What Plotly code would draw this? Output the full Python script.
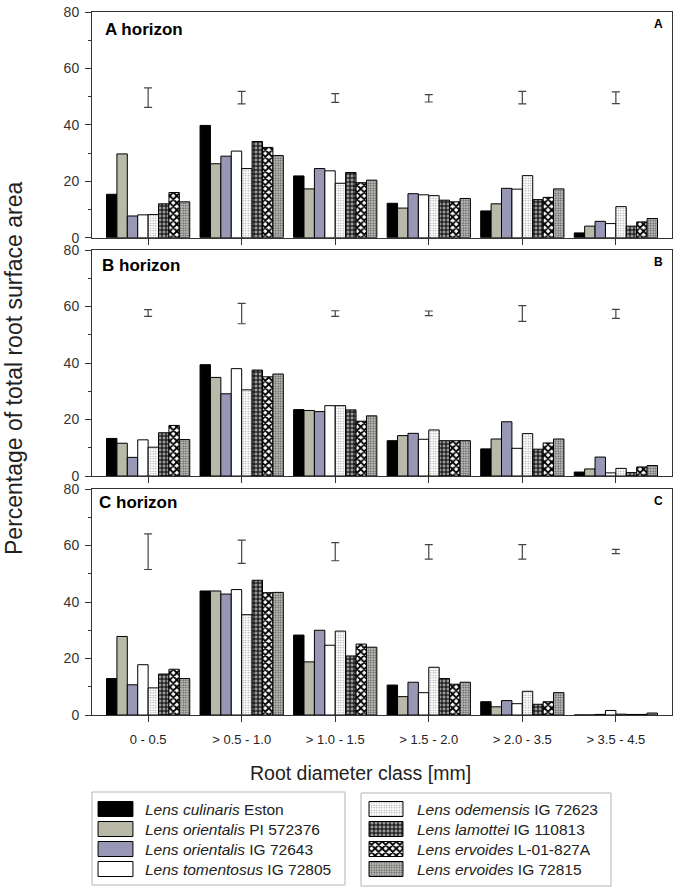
import plotly.graph_objects as go

# ---------------- data ----------------
categories = ["0 - 0.5", "> 0.5 - 1.0", "> 1.0 - 1.5", "> 1.5 - 2.0", "> 2.0 - 3.5", "> 3.5 - 4.5"]

series_labels = [
    "<i>Lens culinaris</i> Eston",
    "<i>Lens orientalis</i> PI 572376",
    "<i>Lens orientalis</i> IG 72643",
    "<i>Lens tomentosus</i> IG 72805",
    "<i>Lens odemensis</i> IG 72623",
    "<i>Lens lamottei</i> IG 110813",
    "<i>Lens ervoides</i> L-01-827A",
    "<i>Lens ervoides</i> IG 72815",
]

# A horizon
a_culinaris_eston = [15.4, 39.8, 21.9, 12.2, 9.5, 1.7]
a_orientalis_pi572376 = [29.7, 26.2, 17.3, 10.5, 12.0, 4.1]
a_orientalis_ig72643 = [7.7, 28.9, 24.5, 15.6, 17.5, 5.8]
a_tomentosus_ig72805 = [8.1, 30.7, 23.7, 15.2, 17.2, 5.0]
a_odemensis_ig72623 = [8.2, 24.5, 19.3, 14.9, 22.0, 11.0]
a_lamottei_ig110813 = [12.0, 34.1, 23.1, 13.3, 13.5, 4.1]
a_ervoides_l01827a = [16.0, 32.0, 19.5, 12.7, 14.3, 5.6]
a_ervoides_ig72815 = [12.7, 29.1, 20.4, 13.9, 17.3, 6.8]
a_lsd_low = [46.2, 47.4, 48.0, 48.1, 47.4, 47.5]
a_lsd_high = [53.1, 51.9, 51.1, 50.7, 51.9, 51.7]

# B horizon
b_culinaris_eston = [13.3, 39.4, 23.5, 12.5, 9.6, 1.4]
b_orientalis_pi572376 = [11.6, 34.9, 23.2, 14.3, 13.1, 2.5]
b_orientalis_ig72643 = [6.6, 29.1, 22.8, 15.1, 19.2, 6.7]
b_tomentosus_ig72805 = [12.8, 38.0, 24.9, 13.0, 9.8, 1.1]
b_odemensis_ig72623 = [10.2, 30.5, 24.9, 16.3, 15.0, 2.7]
b_lamottei_ig110813 = [15.3, 37.5, 23.4, 12.5, 9.5, 1.2]
b_ervoides_l01827a = [17.9, 35.1, 19.4, 12.5, 11.7, 3.2]
b_ervoides_ig72815 = [12.9, 36.1, 21.3, 12.5, 13.1, 3.7]
b_lsd_low = [56.5, 53.9, 56.5, 56.8, 54.7, 55.8]
b_lsd_high = [58.9, 61.1, 58.5, 58.4, 60.3, 59.0]

# C horizon
c_culinaris_eston = [12.9, 43.9, 28.3, 10.6, 4.7, 0.0]
c_orientalis_pi572376 = [27.8, 43.9, 18.8, 6.5, 2.9, 0.0]
c_orientalis_ig72643 = [10.7, 42.8, 30.0, 11.6, 5.1, 0.2]
c_tomentosus_ig72805 = [17.8, 44.4, 24.7, 7.9, 4.0, 1.6]
c_odemensis_ig72623 = [9.6, 35.5, 29.7, 16.9, 8.4, 0.3]
c_lamottei_ig110813 = [14.5, 47.7, 20.9, 12.9, 3.8, 0.2]
c_ervoides_l01827a = [16.2, 43.3, 25.1, 10.9, 4.7, 0.2]
c_ervoides_ig72815 = [12.9, 43.4, 24.0, 11.6, 7.9, 0.7]
c_lsd_low = [51.5, 53.7, 54.6, 55.2, 55.2, 57.1]
c_lsd_high = [64.1, 61.9, 61.0, 60.3, 60.3, 58.6]

y_ticks = [0, 20, 40, 60, 80]

# ---------------- styles ----------------
FONT = "Liberation Sans, Arial, sans-serif"
OUTLINE = dict(color="black", width=1)

marker_styles = [
    dict(color="black"),
    dict(color="#b9b9aa"),
    dict(color="#9898b6"),
    dict(color="white"),
    dict(color="white", pattern=dict(shape=".", fgcolor="#9a9a9a", bgcolor="white", size=2.5, solidity=0.25, fillmode="replace")),
    dict(color="#777777", pattern=dict(shape="+", fgcolor="black", bgcolor="#9a9a9a", size=4, solidity=0.45, fillmode="replace")),
    dict(color="black", pattern=dict(shape="x", fgcolor="black", bgcolor="white", size=5, solidity=0.6, fillmode="replace")),
    dict(color="#999999", pattern=dict(shape=".", fgcolor="#505050", bgcolor="#bdbdb8", size=2.5, solidity=0.35, fillmode="replace")),
]

panels = [
    ("A horizon", "A", [a_culinaris_eston, a_orientalis_pi572376, a_orientalis_ig72643, a_tomentosus_ig72805,
                        a_odemensis_ig72623, a_lamottei_ig110813, a_ervoides_l01827a, a_ervoides_ig72815],
     a_lsd_low, a_lsd_high),
    ("B horizon", "B", [b_culinaris_eston, b_orientalis_pi572376, b_orientalis_ig72643, b_tomentosus_ig72805,
                        b_odemensis_ig72623, b_lamottei_ig110813, b_ervoides_l01827a, b_ervoides_ig72815],
     b_lsd_low, b_lsd_high),
    ("C horizon", "C", [c_culinaris_eston, c_orientalis_pi572376, c_orientalis_ig72643, c_tomentosus_ig72805,
                        c_odemensis_ig72623, c_lamottei_ig110813, c_ervoides_l01827a, c_ervoides_ig72815],
     c_lsd_low, c_lsd_high),
]

W, H = 680, 895
ML, MR, MT, MB = 92, 8, 12, 5
PW = W - ML - MR
PH = H - MT - MB


def px_x(rx):
    return (rx - ML) / PW


def px_y(ry):
    return (H - MB - ry) / PH


panel_px = [(12, 237.7), (250, 476), (489, 715)]
title_pos = [(103, 29), (100, 265), (97, 503)]
letter_pos = [24, 262, 501]

fig = go.Figure()
layout = dict(
    width=W, height=H,
    margin=dict(l=ML, r=MR, t=MT, b=MB, autoexpand=False),
    paper_bgcolor="white", plot_bgcolor="white",
    barmode="group", bargap=0.11, bargroupgap=0.0,
    showlegend=False,
    font=dict(family=FONT, color="#222"),
)
annotations = []
shapes = []

for p, (title, letter, series, lsd_low, lsd_high) in enumerate(panels):
    k = p + 1
    xa = "x" if k == 1 else f"x{k}"
    ya = "y" if k == 1 else f"y{k}"
    for i, vals in enumerate(series):
        fig.add_trace(go.Bar(
            x=categories, y=vals, name=series_labels[i], xaxis=xa, yaxis=ya,
            offsetgroup=str(i), marker=dict(**marker_styles[i], line=OUTLINE),
        ))
    centers = [(lo + hi) / 2 for lo, hi in zip(lsd_low, lsd_high)]
    halves = [(hi - lo) / 2 for lo, hi in zip(lsd_low, lsd_high)]
    fig.add_trace(go.Scatter(
        x=categories, y=centers, mode="markers", xaxis=xa, yaxis=ya,
        marker=dict(size=1, color="rgba(0,0,0,0)"),
        error_y=dict(type="data", array=halves, symmetric=True, color="#444", thickness=1.2, width=4),
    ))
    y0, y1 = panel_px[p]
    layout["xaxis" if k == 1 else f"xaxis{k}"] = dict(
        domain=[0, 1], anchor=ya, type="category", range=[-0.6, 5.6], automargin=False,
        showline=True, linecolor="#333", linewidth=1, mirror=True,
        ticks="outside", ticklen=6, tickcolor="#333", showgrid=False,
        showticklabels=(k == 3), tickfont=dict(size=13, color="#222", family=FONT),
        ticklabelstandoff=6,
    )
    layout["yaxis" if k == 1 else f"yaxis{k}"] = dict(
        domain=[px_y(y1), px_y(y0)], anchor=xa, range=[0, 80], automargin=False,
        tickvals=y_ticks, showline=True, linecolor="#333", linewidth=1, mirror=True,
        ticks="outside", ticklen=6, tickcolor="#333", showgrid=False, zeroline=False,
        minor=dict(dtick=10, ticks="outside", ticklen=3, tickcolor="#333", showgrid=False),
        tickfont=dict(size=14, color="#333", family=FONT), ticklabelstandoff=3,
        ticklabeloverflow="allow",
    )
    tx, ty = title_pos[p]
    annotations.append(dict(text=f"<b>{title}</b>", x=px_x(tx), y=px_y(ty), xref="paper", yref="paper",
                            xanchor="left", yanchor="middle", showarrow=False,
                            font=dict(size=17, color="black", family=FONT)))
    annotations.append(dict(text=f"<b>{letter}</b>", x=px_x(665), y=px_y(letter_pos[p]), xref="paper", yref="paper",
                            xanchor="right", yanchor="middle", showarrow=False,
                            font=dict(size=12, color="black", family=FONT)))

# axis titles
annotations.append(dict(text="Percentage of total root surface area", x=px_x(14), y=px_y(368),
                        xref="paper", yref="paper", textangle=-90, showarrow=False,
                        xanchor="center", yanchor="middle", font=dict(size=23, color="#222", family=FONT)))
annotations.append(dict(text="Root diameter class [mm]", x=px_x(360), y=px_y(773),
                        xref="paper", yref="paper", showarrow=False,
                        xanchor="center", yanchor="middle", font=dict(size=19.5, color="#222", family=FONT)))

# legend: swatches drawn as bars on auxiliary hidden axes, labels as annotations
legend_rows = [3, 2, 1, 0]
row_px = [809, 829, 849, 869]
for g, (sx0, sx1, text_x) in enumerate([(97, 134, 143), (368, 404, 415)]):
    k = 4 + g
    for r in range(4):
        i = g * 4 + r
        fig.add_trace(go.Bar(
            x=[1], y=[legend_rows[r]], base=0, orientation="h", width=0.75,
            xaxis=f"x{k}", yaxis=f"y{k}", marker=dict(**marker_styles[i], line=OUTLINE),
        ))
        annotations.append(dict(text=series_labels[i], x=px_x(text_x), y=px_y(row_px[r]),
                                xref="paper", yref="paper", xanchor="left", yanchor="middle",
                                showarrow=False, font=dict(size=15.5, color="#222", family=FONT)))
    layout[f"xaxis{k}"] = dict(domain=[px_x(sx0), px_x(sx1)], anchor=f"y{k}", range=[-0.03, 1.03],
                               visible=False, automargin=False)
    layout[f"yaxis{k}"] = dict(domain=[px_y(879), px_y(799)], anchor=f"x{k}", range=[-0.5, 3.5],
                               visible=False, automargin=False)

shapes.append(dict(type="rect", xref="paper", yref="paper", x0=px_x(92), x1=px_x(345),
                   y0=px_y(885), y1=px_y(792), line=dict(color="#b5b5b5", width=1)))
shapes.append(dict(type="rect", xref="paper", yref="paper", x0=px_x(361), x1=px_x(611),
                   y0=px_y(886), y1=px_y(793), line=dict(color="#b5b5b5", width=1)))

layout["annotations"] = annotations
layout["shapes"] = shapes
fig.update_layout(**layout)

# remove the default page margin so the figure sits at the window's top-left corner
fig.write_html("out.html", config={"displayModeBar": False},
               post_script="document.body.style.margin='0';document.body.style.overflow='hidden';")
